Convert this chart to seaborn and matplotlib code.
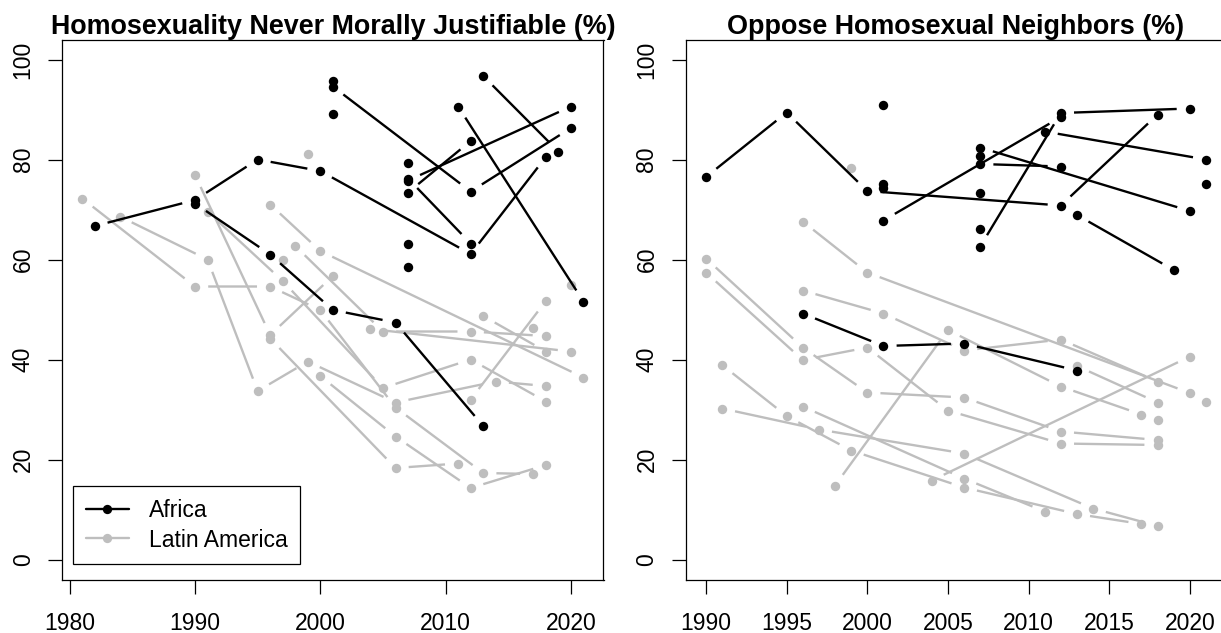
import numpy as np
import pandas as pd
import matplotlib
matplotlib.use("Agg")
import matplotlib.pyplot as plt
import seaborn as sns
from matplotlib.lines import Line2D

# ---------------- data ----------------
TITLE_LEFT = "Homosexuality Never Morally Justifiable (%)"
TITLE_RIGHT = "Oppose Homosexual Neighbors (%)"
REGIONS = ["Africa", "Latin America"]
X_TICKS_LEFT = [1980, 1990, 2000, 2010, 2020]
X_TICKS_RIGHT = [1990, 1995, 2000, 2005, 2010, 2015, 2020]
Y_TICKS = [0, 20, 40, 60, 80, 100]

# Left panel, Africa (series id, survey year, percent)
L_AF_ID = [1, 1, 1, 1, 1, 1, 2, 2, 2, 2, 2, 3, 3, 3, 4, 4, 5, 5, 6, 6, 7, 7, 8, 8, 9, 10, 11, 12, 13]
L_AF_YEAR = [1982, 1990, 1995, 2000, 2012, 2018, 1990, 1996, 2001, 2006, 2013, 2001, 2012, 2020,
             2007, 2012, 2007, 2012, 2007, 2020, 2011, 2021, 2013, 2019, 2001, 2001, 2007, 2007, 2007]
L_AF_VAL = [66.7, 71.9, 80.0, 77.7, 61.1, 80.5, 71.2, 61.0, 49.9, 47.4, 26.7, 94.6, 73.6, 86.3,
            76.2, 63.2, 73.4, 83.7, 75.8, 90.6, 90.6, 51.6, 96.7, 81.6, 95.8, 89.2, 79.4, 63.1, 58.6]

# Left panel, Latin America
L_LA_ID = [1, 1, 1, 1, 1, 1, 1, 2, 2, 2, 2, 2, 2, 2, 3, 3, 3, 4, 4, 4, 4, 4, 5, 5, 5, 6, 6, 6,
           7, 7, 7, 7, 8, 8, 8, 8, 9, 9, 10, 10, 11, 11, 12, 13, 14, 15]
L_LA_YEAR = [1981, 1990, 1996, 2000, 2006, 2013, 2017, 1984, 1991, 1995, 1999, 2006, 2014, 2018,
             1990, 1996, 2001, 1991, 1997, 2005, 2012, 2018, 1996, 2000, 2021, 1996, 2006, 2011,
             2000, 2006, 2012, 2018, 1998, 2005, 2012, 2018, 2004, 2020, 2013, 2018, 2012, 2018,
             1999, 1997, 2017, 2020]
L_LA_VAL = [72.2, 54.6, 54.6, 49.9, 30.4, 17.3, 17.1, 68.6, 60.0, 33.7, 39.6, 31.4, 35.6, 34.7,
            76.9, 44.9, 56.7, 69.6, 55.7, 34.3, 40.0, 31.6, 71.0, 61.7, 36.4, 44.2, 18.3, 19.2,
            36.7, 24.6, 14.3, 18.9, 62.7, 45.6, 45.6, 44.7, 46.1, 41.6, 48.7, 41.6, 32.0, 51.7,
            81.2, 59.9, 46.4, 54.9]

# Right panel, Africa
R_AF_ID = [1, 1, 1, 1, 1, 2, 2, 2, 2, 3, 3, 4, 4, 4, 5, 5, 6, 6, 7, 7, 8, 8,
           9, 10, 11, 12, 13, 14, 15]
R_AF_YEAR = [1990, 1995, 2000, 2012, 2018, 1996, 2001, 2006, 2013, 2001, 2012, 2007, 2012, 2020,
             2007, 2020, 2007, 2012, 2011, 2021, 2013, 2019, 2001, 2001, 2001, 2007, 2007, 2007, 2021]
R_AF_VAL = [76.5, 89.4, 73.7, 70.8, 89.0, 49.2, 42.7, 43.2, 37.8, 67.8, 88.5, 62.6, 89.3, 90.2,
            82.4, 69.7, 79.1, 78.6, 85.6, 80.0, 68.9, 57.9, 90.9, 75.2, 74.3, 80.7, 73.3, 66.2, 75.2]

# Right panel, Latin America
R_LA_ID = [1, 1, 1, 1, 1, 1, 2, 2, 2, 2, 2, 2, 3, 3, 3, 3, 3, 3, 4, 4, 4, 4, 4, 5, 5, 5,
           6, 6, 6, 6, 7, 7, 8, 8, 8, 9, 9, 9, 9, 9, 10, 10, 11, 12, 13]
R_LA_YEAR = [1990, 1996, 2000, 2006, 2012, 2018, 1990, 1996, 2000, 2005, 2012, 2018,
             1991, 1995, 1999, 2006, 2013, 2017, 1991, 1997, 2006, 2014, 2018, 1996, 2006, 2011,
             1998, 2005, 2012, 2017, 2004, 2020, 1996, 2000, 2020, 1996, 2001, 2006, 2012, 2018,
             2013, 2018, 1999, 2018, 2021]
R_LA_VAL = [60.2, 42.4, 33.4, 32.4, 25.6, 23.9, 57.4, 39.9, 42.4, 29.8, 23.2, 22.9,
            38.9, 28.7, 21.8, 14.4, 9.1, 7.1, 30.2, 26.0, 21.2, 10.2, 6.7, 30.6, 16.2, 9.6,
            14.8, 45.9, 34.6, 29.0, 15.8, 40.6, 67.6, 57.4, 33.3, 53.8, 49.2, 41.8, 44.0, 35.6,
            38.7, 31.4, 78.4, 28.0, 31.6]

COLORS = {"Africa": "#000000", "Latin America": "#BEBEBE"}

# ---------------- style ----------------
sns.set_theme(style="ticks")
plt.rcParams["font.family"] = ["Liberation Sans", "DejaVu Sans"]
plt.rcParams["axes.edgecolor"] = "black"
plt.rcParams["axes.linewidth"] = 0.9
plt.rcParams["text.color"] = "black"

W, H = 1221, 633
fig = plt.figure(figsize=(W / 100, H / 100), dpi=100)


def px_axes(x0, x1, ytop, ybot):
    return fig.add_axes([x0 / W, (H - ybot) / H, (x1 - x0) / W, (ybot - ytop) / H])


axL = px_axes(62.2, 603.5, 39.5, 579.5)
axR = px_axes(686.0, 1226.0, 39.5, 579.5)

LW = 1.7
MS = 46
GAP_PT = 9.5


def make_df(ids, years, vals, region):
    return pd.DataFrame({"sid": ids, "year": years, "value": vals, "region": region})


def draw_region(ax, df, color, z):
    for sid, g in df.groupby("sid", sort=False):
        g = g.sort_values("year")
        xs = g["year"].to_numpy(dtype=float)
        ys = g["value"].to_numpy(dtype=float)
        for i in range(len(xs) - 1):
            p1 = ax.transData.transform((xs[i], ys[i]))
            p2 = ax.transData.transform((xs[i + 1], ys[i + 1]))
            dist_pt = np.hypot(*(p2 - p1)) * 72.0 / fig.dpi
            if dist_pt <= 2 * GAP_PT + 1:
                continue
            ax.annotate("", xy=(xs[i + 1], ys[i + 1]), xytext=(xs[i], ys[i]),
                        arrowprops=dict(arrowstyle="-", color=color, lw=LW,
                                        shrinkA=GAP_PT, shrinkB=GAP_PT,
                                        capstyle="butt"),
                        zorder=z)
    sns.scatterplot(data=df, x="year", y="value", color=color, s=MS, linewidth=0,
                    ax=ax, legend=False, zorder=z + 0.5)


panels = [
    (axL, (1979.4, 2022.6), X_TICKS_LEFT, TITLE_LEFT,
     make_df(L_AF_ID, L_AF_YEAR, L_AF_VAL, "Africa"),
     make_df(L_LA_ID, L_LA_YEAR, L_LA_VAL, "Latin America")),
    (axR, (1988.76, 2022.24), X_TICKS_RIGHT, TITLE_RIGHT,
     make_df(R_AF_ID, R_AF_YEAR, R_AF_VAL, "Africa"),
     make_df(R_LA_ID, R_LA_YEAR, R_LA_VAL, "Latin America")),
]

for ax, xlim, xticks, title, df_af, df_la in panels:
    ax.set_xlim(*xlim)
    ax.set_ylim(-4, 104)
    draw_region(ax, df_la, COLORS["Latin America"], 2)
    draw_region(ax, df_af, COLORS["Africa"], 4)
    ax.set_xlim(*xlim)
    ax.set_ylim(-4, 104)
    ax.set_xlabel("")
    ax.set_ylabel("")
    ax.set_xticks(xticks)
    ax.set_xticklabels([str(t) for t in xticks])
    ax.set_yticks(Y_TICKS)
    ax.set_yticklabels([str(t) for t in Y_TICKS], rotation=90, va="center")
    ax.tick_params(axis="both", direction="out", length=10.4, width=0.9,
                   colors="black", labelsize=16.5)
    ax.tick_params(axis="x", pad=13.0)
    ax.tick_params(axis="y", pad=9.4)
    for sp in ax.spines.values():
        sp.set_visible(True)
        sp.set_color("black")
        sp.set_linewidth(0.9)
    ax.set_title(title, fontsize=19.4, fontweight="bold", pad=4, color="black")

handles = [Line2D([0], [0], color=COLORS[r], lw=LW, marker="o", markersize=6.7,
                  markeredgewidth=0) for r in REGIONS]
leg = axL.legend(handles, REGIONS, loc="upper left", bbox_to_anchor=(0.02, 0.1731),
                 borderaxespad=0, fontsize=16.5, frameon=True, fancybox=False,
                 edgecolor="black", framealpha=1, handlelength=1.9,
                 handletextpad=0.85, borderpad=0.55, labelspacing=0.3,
                 labelcolor="black")
leg.get_frame().set_linewidth(0.9)

fig.savefig("out.png", dpi=100)
